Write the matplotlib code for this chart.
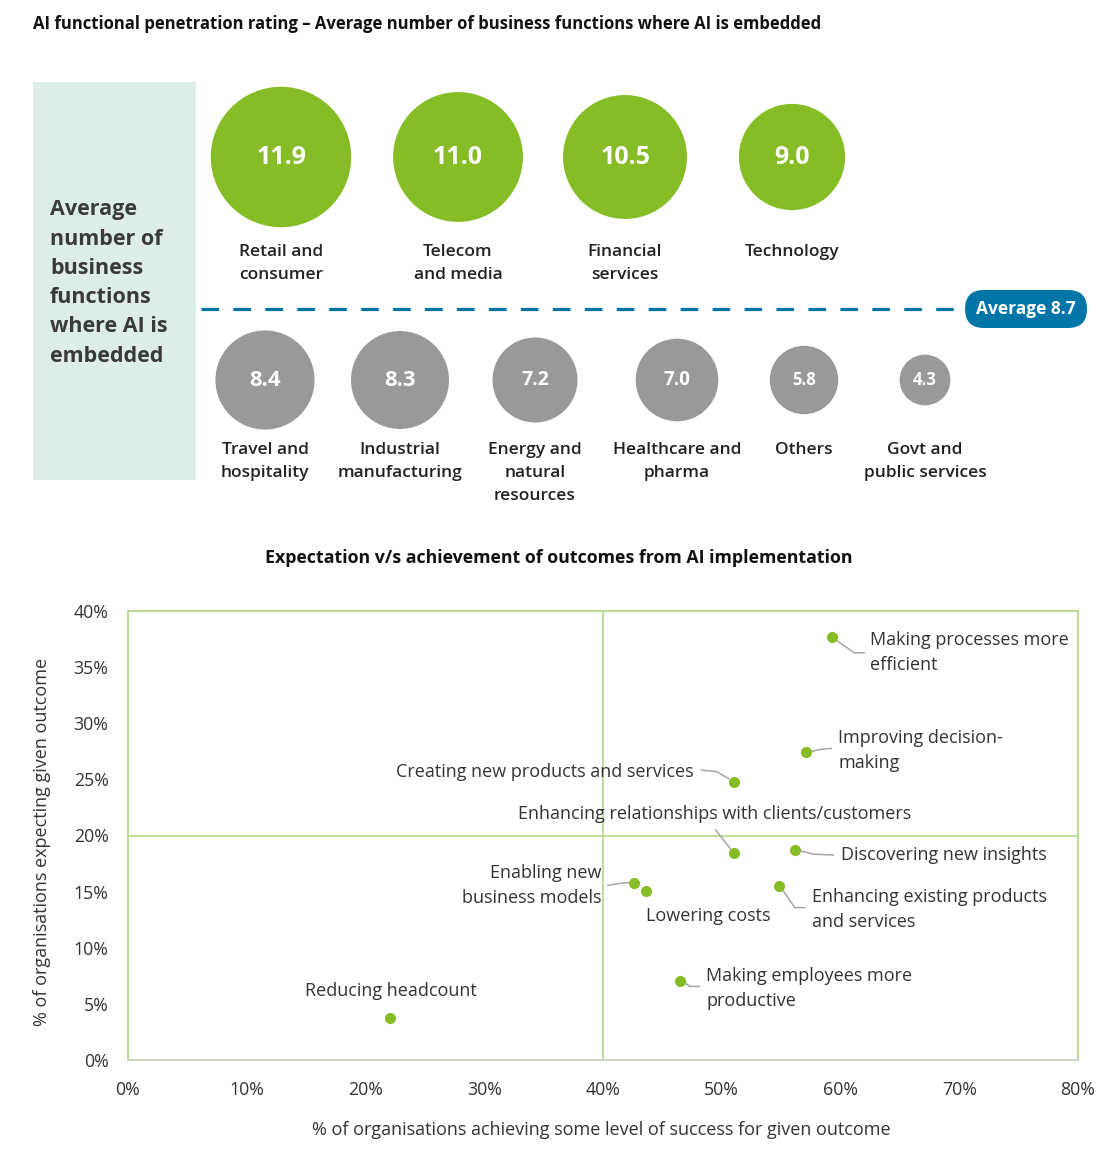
import matplotlib
matplotlib.use("Agg")
import matplotlib.pyplot as plt
from matplotlib.patches import Circle, Rectangle, FancyBboxPatch
import numpy as np

plt.rcParams["font.family"] = ["Open Sans", "DejaVu Sans"]

W, H = 1113, 1152
GREEN = "#86BC25"
GREY = "#97999B"
BLUE = "#0076A8"
MINT = "#DDEEE8"
FRAME = "#B5D88A"
TXT = "#333333"

# --- dane: sektory ---
sectors = ["Retail and\nconsumer", "Telecom\nand media", "Financial\nservices", "Technology",
           "Travel and\nhospitality", "Industrial\nmanufacturing", "Energy and\nnatural\nresources",
           "Healthcare and\npharma", "Others", "Govt and\npublic services"]
functions = [11.9, 11.0, 10.5, 9.0, 8.4, 8.3, 7.2, 7.0, 5.8, 4.3]
average = 8.7

# --- dane: wyniki AI ---
outcomes = ["Making processes more\nefficient", "Improving decision-\nmaking",
            "Creating new products and services", "Enhancing relationships with clients/customers",
            "Discovering new insights", "Enabling new\nbusiness models", "Lowering costs",
            "Enhancing existing products\nand services", "Making employees more\nproductive",
            "Reducing headcount"]
achieved = [59.3, 57.1, 51.0, 51.0, 56.2, 42.6, 43.6, 54.8, 46.5, 22.1]
expected = [37.7, 27.4, 24.8, 18.4, 18.7, 15.8, 15.1, 15.5, 7.0, 3.7]

# uklad (piksele)
top_x = [281, 458, 625, 792]
bottom_x = [265, 400, 535, 677, 804, 925]
top_y, bottom_y = 157, 380
r_scale = 5.9

fig = plt.figure(figsize=(W / 100, H / 100), dpi=100)
bg = fig.add_axes([0, 0, 1, 1])
bg.set_xlim(0, W)
bg.set_ylim(H, 0)
bg.axis("off")

bg.text(33, 24, "AI functional penetration rating \u2013 Average number of business functions where AI is embedded",
        fontsize=12, fontweight="bold", color="#111111", ha="left", va="center")

bg.add_patch(Rectangle((33, 82), 163, 398, color=MINT, lw=0))
bg.text(50, 283, "Average\nnumber of\nbusiness\nfunctions\nwhere AI is\nembedded", fontsize=15.5,
        fontweight="bold", color="#3a3a3a", ha="left", va="center", linespacing=1.52)

# kola
ti, bi = 0, 0
for name, val in zip(sectors, functions):
    if val > average:
        cx, cy, col = top_x[ti], top_y, GREEN
        ti += 1
        fs = 18
        ly = 244
    else:
        cx, cy, col = bottom_x[bi], bottom_y, GREY
        bi += 1
        fs = max(12, min(16, 0.33 * r_scale * val))
        ly = 442
    r = r_scale * val
    bg.add_patch(Circle((cx, cy), r, color=col, lw=0))
    bg.text(cx, cy, f"{val:.1f}", fontsize=fs, fontweight="bold", color="white", ha="center", va="center")
    bg.text(cx, ly, name, fontsize=12.5, fontweight="semibold", color="#222222", ha="center", va="top",
            linespacing=1.58)

# linia sredniej
bg.plot([201, 965], [309, 309], color=BLUE, lw=2.3, linestyle=(0, (5.5, 4.5)), solid_capstyle="butt")
bg.add_patch(FancyBboxPatch((965, 290), 122, 38, boxstyle="round,pad=0,rounding_size=19", color=BLUE, lw=0))
bg.text(1026, 309, f"Average {average}", fontsize=12.5, fontweight="bold", color="white", ha="center", va="center")

bg.text(559, 558, "Expectation v/s achievement of outcomes from AI implementation",
        fontsize=12.8, fontweight="bold", color="#111111", ha="center", va="center")

# --- wykres punktowy ---
ax = fig.add_axes([128 / W, 1 - 1060 / H, 950 / W, 449 / H])
ax.set_xlim(0, 80)
ax.set_ylim(0, 40)
ax.axvline(40, color=FRAME, lw=1.2, zorder=1)
ax.axhline(20, color=FRAME, lw=1.2, zorder=1)
for s in ax.spines.values():
    s.set_color(FRAME)
    s.set_linewidth(1.3)
ax.spines["bottom"].set_color("#C8D2BE")

ax.scatter(achieved, expected, s=64, color=GREEN, zorder=3, lw=0)

ppx, ppy = 950 / 80, 449 / 40
# przesuniecia etykiet (px, y w dol) i linie prowadzace
label_pos = [(38, 16, "left"), (32, -2, "left"), (-40, -10, "right"), (-19, -39, "center"),
             (46, 5, "left"), (-32, 3, "right"), (0, 25, "left"), (33, 23, "left"),
             (26, 7, "left"), (0, -27, "center")]
leaders = [[(5, 4), (22, 16), (32, 16)], [(6, -1), (14, -3), (25, -4)],
           [(-32, -11.5), (-17, -10), (-5, -3)], [(-18, -23.5), (-3, -4.5)],
           [(6, 1), (18, 4), (38, 5)], [(-26, 2.7), (-12, 0.5), (-5, 0)], [],
           [(4, 4), (16, 21.6), (26, 21.6)], [(5, 2), (10, 5), (19, 5)], []]

for name, x, y, (dx, dy, ha), lead in zip(outcomes, achieved, expected, label_pos, leaders):
    ax.annotate(name, (x, y), xytext=(dx, -dy), textcoords="offset pixels", ha=ha, va="center",
                fontsize=13, color=TXT, linespacing=1.5)
    if lead:
        lx = [x + p[0] / ppx for p in lead]
        ly = [y - p[1] / ppy for p in lead]
        ax.plot(lx, ly, color="#A6A6A6", lw=1.1, zorder=2)

ax.set_xticks(np.arange(0, 81, 10))
ax.set_yticks(np.arange(0, 41, 5))
ax.set_xticklabels([f"{t}%" for t in range(0, 81, 10)])
ax.set_yticklabels([f"{t}%" for t in range(0, 41, 5)])
ax.tick_params(length=0, labelsize=12.8, colors=TXT, pad=15)
ax.tick_params(axis="y", pad=14)

ax.set_xlabel("% of organisations achieving some level of success for given outcome", fontsize=13, color=TXT)
ax.set_ylabel("% of organisations expecting given outcome", fontsize=13, color=TXT)
ax.xaxis.label.set_va("center")
ax.yaxis.label.set_va("center")
ax.xaxis.set_label_coords(0.498, -0.156)
ax.yaxis.set_label_coords(-0.0905, 0.4855)

fig.savefig("out.png", dpi=100)
